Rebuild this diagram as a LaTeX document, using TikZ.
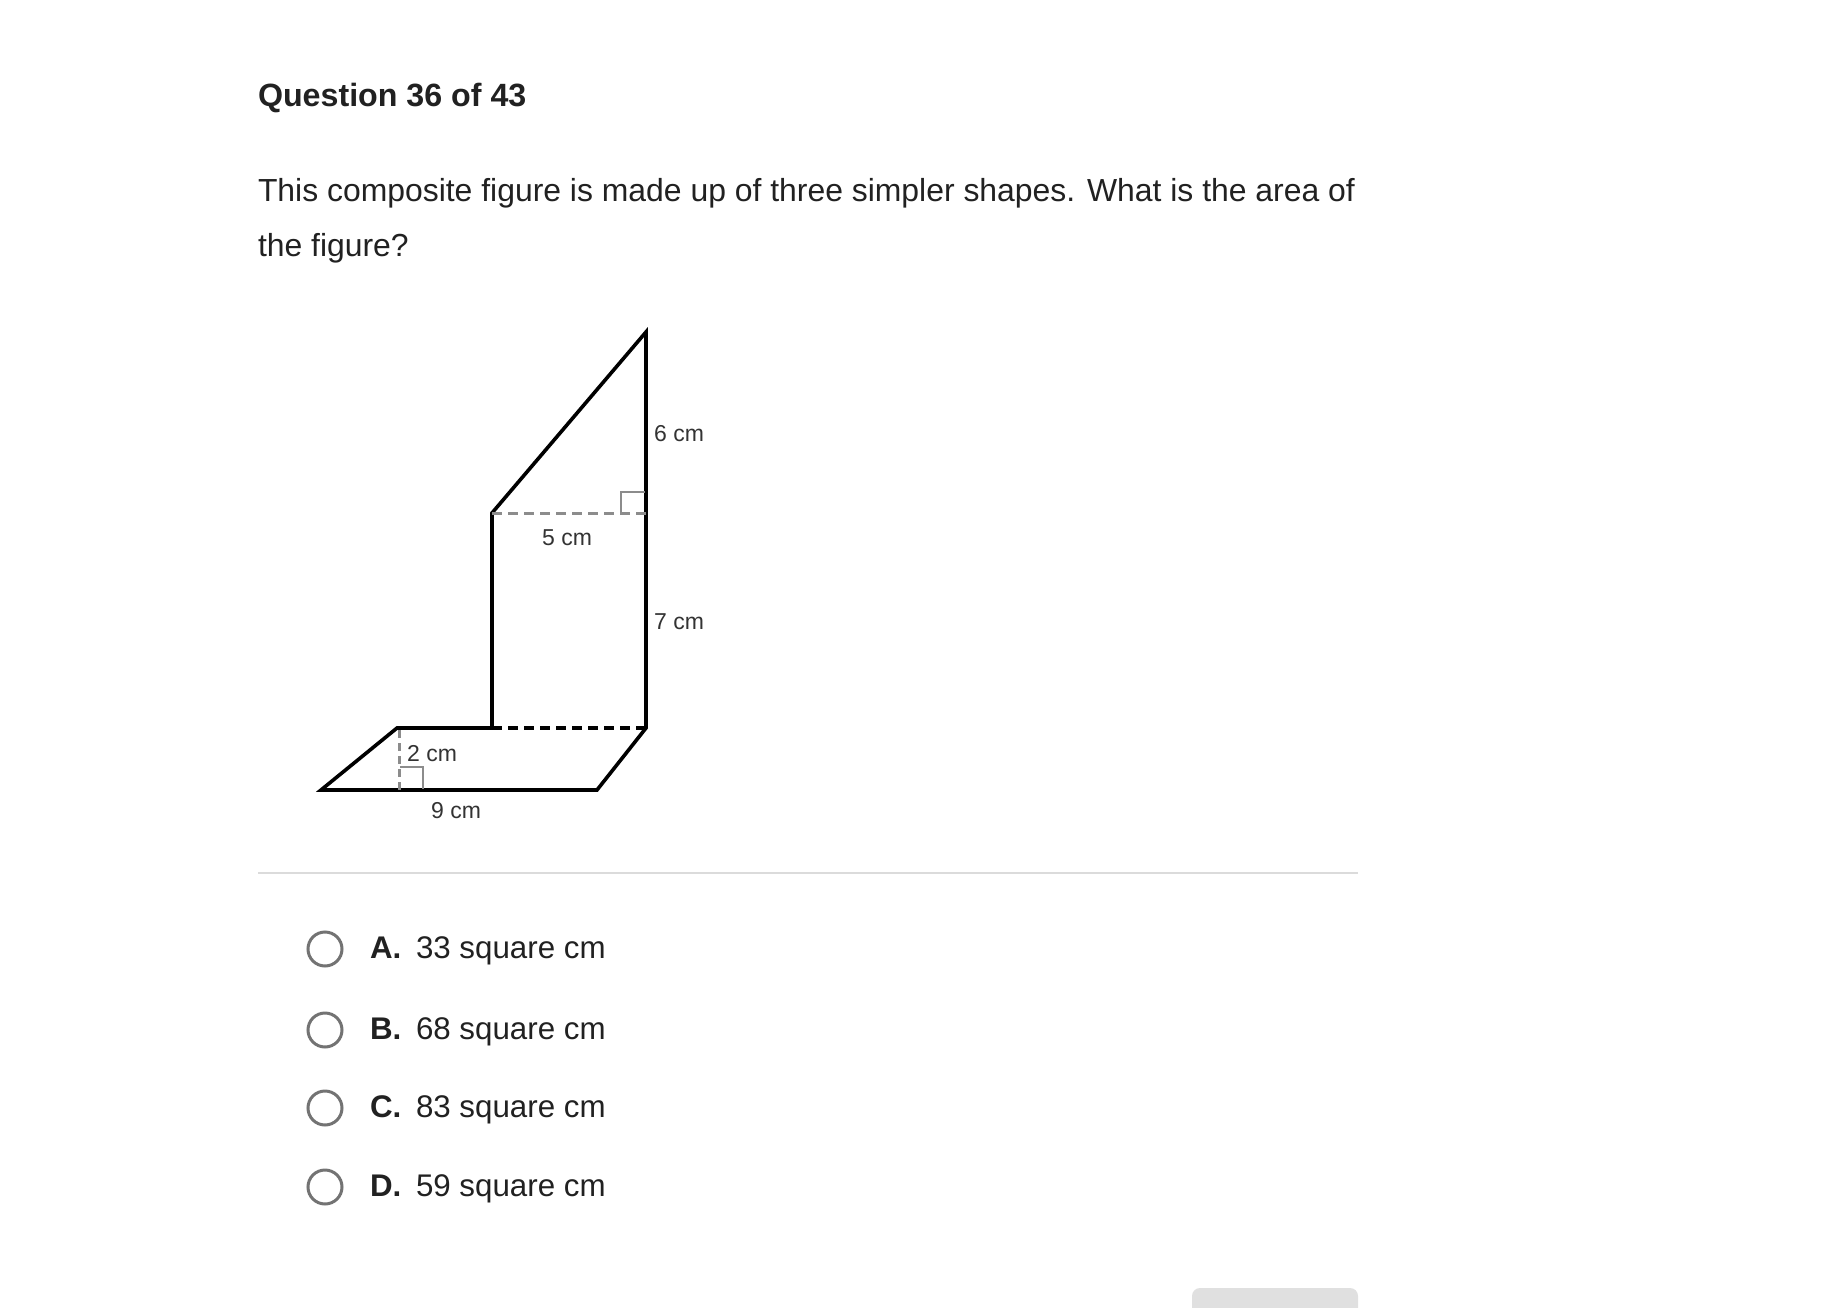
\documentclass[tikz,border=0pt]{standalone}
\usepackage{fontspec}
\setmainfont{Liberation Sans}
\begin{document}
\begin{tikzpicture}[x=1pt,y=-1pt,
  txt/.style={inner sep=0pt,outer sep=0pt,anchor=base west,text=black!87},
  fig/.style={line width=3.6pt,line join=miter,black},
  lbl/.style={inner sep=0pt,anchor=base west,text=black!80,font=\fontsize{23}{25}\selectfont},
  radio/.style={circle,draw=black!55,line width=3pt,minimum size=34pt,inner sep=0pt},
  optl/.style={txt,font=\bfseries\fontsize{31.3}{34}\selectfont},
  optt/.style={txt,font=\fontsize{31.3}{34}\selectfont}]
\useasboundingbox (0,0) rectangle (1832,1308);
\fill[white] (0,0) rectangle (1832,1308);
% heading and question
\node[txt,font=\bfseries\fontsize{32.2}{34}\selectfont] (head) at (258,107) {Question 36 of 43};
\node[txt,font=\fontsize{31.9}{34}\selectfont] (q1) at (258,202) {This composite figure is made up of three simpler shapes. What is the area of};
\node[txt,font=\fontsize{31.9}{34}\selectfont] (q2) at (258,257) {the figure?};
% figure points
\coordinate (apex) at (646,332);
\coordinate (mr) at (646,513);
\coordinate (ml) at (492,513);
\coordinate (bl) at (492,728);
\coordinate (br) at (646,728);
\coordinate (pl) at (397,728);
\coordinate (ql) at (321,790);
\coordinate (qr) at (597,790);
\coordinate (hb) at (399,790);
% outline
\draw[fig] (bl) -- (ml) -- (apex) -- (br) -- (qr) -- (ql) -- (pl) -- (bl);
\draw[black,line width=3.6pt,dash pattern=on 10pt off 6pt] (bl) -- (br);
\draw[black!45,line width=3pt,dash pattern=on 10pt off 6pt] (ml) -- (mr);
\draw[black!45,line width=2pt] (621,513) -- (621,492) -- (645,492);
\draw[black!45,line width=3pt,dash pattern=on 8pt off 5pt] (pl) ++(2,2) -- (hb);
\draw[black!45,line width=2pt] (400,767) -- (423,767) -- (423,789);
% labels
\node[lbl] (l6) at (654,441) {6 cm};
\node[lbl] (l5) at (542,545) {5 cm};
\node[lbl] (l7) at (654,629) {7 cm};
\node[lbl] (l2) at (407,761) {2 cm};
\node[lbl] (l9) at (431,818) {9 cm};
% separator
\draw[black!14,line width=2pt] (258,873) -- (1358,873);
% options
\node[radio] (ra) at (325,949) {};
\node[radio] (rb) at (325,1030) {};
\node[radio] (rc) at (325,1108) {};
\node[radio] (rd) at (325,1187) {};
\node[optl] (la) at (370,958) {A.};
\node[optt] (ta) at (416,958) {33 square cm};
\node[optl] (lb) at (370,1039) {B.};
\node[optt] (tb) at (416,1039) {68 square cm};
\node[optl] (lc) at (370,1117) {C.};
\node[optt] (tc) at (416,1117) {83 square cm};
\node[optl] (ld) at (370,1196) {D.};
\node[optt] (td) at (416,1196) {59 square cm};
% button
\fill[black!12,rounded corners=8pt] (1192,1288) rectangle (1358,1340);
\end{tikzpicture}
\end{document}
